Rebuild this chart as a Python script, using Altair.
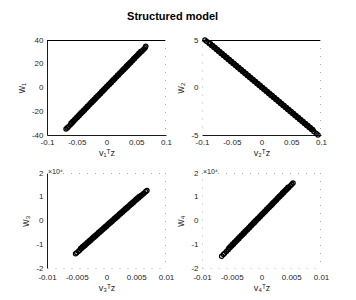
import altair as alt
import pandas as pd

# ---- data (outer sparse samples + dense core samples) ----
p1_x = [-0.068, -0.066, -0.064, -0.061, -0.058, -0.055, -0.052, -0.049, -0.046, -0.043, -0.040, -0.037,
        -0.034, -0.031, -0.028, -0.025, -0.022, -0.019, -0.016, -0.013, -0.010, -0.007, -0.004, -0.001,
        0.002, 0.005, 0.008, 0.011, 0.014, 0.017, 0.020, 0.023, 0.026, 0.029, 0.032, 0.035, 0.038,
        0.041, 0.044, 0.047, 0.050, 0.053, 0.056, 0.059, 0.061, 0.063, 0.065, 0.066,
        -0.0595, -0.0565, -0.0535, -0.0505, -0.0475, -0.0445, -0.0415, -0.0385, -0.0355, -0.0325,
        -0.0295, -0.0265, -0.0235, -0.0205, -0.0175, -0.0145, -0.0115, -0.0085, -0.0055, -0.0025,
        0.0005, 0.0035, 0.0065, 0.0095, 0.0125, 0.0155, 0.0185, 0.0215, 0.0245, 0.0275,
        0.0305, 0.0335, 0.0365, 0.0395, 0.0425, 0.0455, 0.0485, 0.0515, 0.0545, 0.0575]
p1_y = [-35.0, -34.0, -33.1, -31.5, -30.0, -28.4, -26.8, -25.3, -23.7, -22.2, -20.6, -19.1,
        -17.5, -16.0, -14.4, -12.9, -11.3, -9.8, -8.2, -6.7, -5.2, -3.6, -2.1, -0.5,
        1.0, 2.6, 4.1, 5.7, 7.2, 8.8, 10.3, 11.9, 13.4, 15.0, 16.5, 18.0, 19.6,
        21.1, 22.7, 24.2, 25.8, 27.3, 28.9, 30.4, 31.4, 32.5, 33.5, 34.8,
        -29.9, -28.4, -26.9, -25.3, -23.8, -22.2, -20.7, -19.1, -17.6, -16.0,
        -14.5, -12.9, -11.4, -9.9, -8.3, -6.8, -5.2, -3.7, -2.1, -0.6,
        1.0, 2.5, 4.0, 5.6, 7.1, 8.7, 10.2, 11.8, 13.3, 14.9,
        16.4, 18.0, 19.5, 21.0, 22.6, 24.1, 25.7, 27.2, 28.8, 30.3]

p2_x = [-0.095, -0.092, -0.088, -0.084, -0.080, -0.076, -0.072, -0.068, -0.064, -0.060, -0.056, -0.052,
        -0.048, -0.044, -0.040, -0.036, -0.032, -0.028, -0.024, -0.020, -0.016, -0.012, -0.008, -0.004,
        0.000, 0.004, 0.008, 0.012, 0.016, 0.020, 0.024, 0.028, 0.032, 0.036, 0.040, 0.044, 0.048,
        0.052, 0.056, 0.060, 0.064, 0.068, 0.072, 0.076, 0.080, 0.084, 0.088, 0.092, 0.095,
        -0.086, -0.082, -0.078, -0.074, -0.070, -0.066, -0.062, -0.058, -0.054, -0.050,
        -0.046, -0.042, -0.038, -0.034, -0.030, -0.026, -0.022, -0.018, -0.014, -0.010,
        -0.006, -0.002, 0.002, 0.006, 0.010, 0.014, 0.018, 0.022, 0.026, 0.030,
        0.034, 0.038, 0.042, 0.046, 0.050, 0.054, 0.058, 0.062, 0.066, 0.070,
        0.074, 0.078, 0.082, 0.086]
p2_y = [5.00, 4.84, 4.63, 4.42, 4.21, 4.00, 3.79, 3.58, 3.37, 3.16, 2.95, 2.74,
        2.52, 2.31, 2.10, 1.89, 1.68, 1.47, 1.26, 1.05, 0.84, 0.63, 0.42, 0.21,
        0.00, -0.21, -0.42, -0.63, -0.84, -1.05, -1.26, -1.47, -1.68, -1.89, -2.10, -2.31, -2.52,
        -2.74, -2.95, -3.16, -3.37, -3.58, -3.79, -4.00, -4.21, -4.42, -4.63, -4.84, -5.00,
        4.62, 4.41, 4.20, 3.99, 3.78, 3.57, 3.36, 3.15, 2.94, 2.73,
        2.52, 2.31, 2.10, 1.89, 1.68, 1.47, 1.26, 1.05, 0.84, 0.63,
        0.42, 0.21, -0.01, -0.22, -0.43, -0.64, -0.85, -1.06, -1.27, -1.48,
        -1.69, -1.90, -2.11, -2.32, -2.53, -2.74, -2.95, -3.16, -3.37, -3.58,
        -3.79, -4.00, -4.21, -4.42]

p3_x = [-0.0052, -0.0050, -0.0047, -0.0045, -0.0042, -0.0039, -0.0036, -0.0033, -0.0030, -0.0027,
        -0.0024, -0.0021, -0.0018, -0.0015, -0.0012, -0.0009, -0.0006, -0.0003, 0.0000, 0.0003,
        0.0006, 0.0009, 0.0012, 0.0015, 0.0018, 0.0021, 0.0024, 0.0027, 0.0030, 0.0033, 0.0036,
        0.0039, 0.0042, 0.0045, 0.0048, 0.0051, 0.0054, 0.0057, 0.0059, 0.0061, 0.0063, 0.0066, 0.0068,
        -0.00435, -0.00405, -0.00375, -0.00345, -0.00315, -0.00285, -0.00255, -0.00225, -0.00195, -0.00165,
        -0.00135, -0.00105, -0.00075, -0.00045, -0.00015, 0.00015, 0.00045, 0.00075, 0.00105, 0.00135,
        0.00165, 0.00195, 0.00225, 0.00255, 0.00285, 0.00315, 0.00345, 0.00375, 0.00405, 0.00435,
        0.00465, 0.00495, 0.00525, 0.00555]
p3_y = [-14040, -13600, -12930, -12490, -11820, -11160, -10490, -9830, -9160, -8490,
        -7830, -7160, -6500, -5830, -5160, -4500, -3830, -3170, -2500, -1830,
        -1170, -500, 160, 830, 1500, 2160, 2830, 3490, 4160, 4830, 5490,
        6160, 6820, 7490, 8160, 8820, 9490, 10150, 10600, 11040, 11490, 12150, 12600,
        -11760, -11090, -10430, -9760, -9090, -8430, -7760, -7100, -6430, -5760,
        -5100, -4430, -3770, -3100, -2430, -1770, -1100, -440, 230, 900,
        1560, 2230, 2900, 3560, 4230, 4890, 5560, 6230, 6890, 7560,
        8220, 8890, 9560, 10220]

p4_x = [-0.0067, -0.0064, -0.0062, -0.0059, -0.0056, -0.0053, -0.0050, -0.0047, -0.0044, -0.0041,
        -0.0038, -0.0035, -0.0032, -0.0029, -0.0026, -0.0023, -0.0020, -0.0017, -0.0014, -0.0011,
        -0.0008, -0.0005, -0.0002, 0.0001, 0.0004, 0.0007, 0.0010, 0.0013, 0.0016, 0.0019, 0.0022,
        0.0025, 0.0028, 0.0031, 0.0034, 0.0037, 0.0040, 0.0043, 0.0046, 0.0049, 0.0051, 0.0053,
        -0.00545, -0.00515, -0.00485, -0.00455, -0.00425, -0.00395, -0.00365, -0.00335, -0.00305, -0.00275,
        -0.00245, -0.00215, -0.00185, -0.00155, -0.00125, -0.00095, -0.00065, -0.00035, -0.00005, 0.00025,
        0.00055, 0.00085, 0.00115, 0.00145, 0.00175, 0.00205, 0.00235, 0.00265, 0.00295, 0.00325,
        0.00355, 0.00385, 0.00415, 0.00445]
p4_y = [-15100, -14330, -13810, -13040, -12270, -11500, -10730, -9960, -9190, -8420,
        -7650, -6880, -6100, -5330, -4560, -3790, -3020, -2250, -1480, -710,
        60, 840, 1610, 2380, 3150, 3920, 4690, 5460, 6230, 7000, 7770,
        8550, 9320, 10090, 10860, 11630, 12400, 13170, 13940, 14710, 15230, 15740,
        -11490, -10720, -9950, -9170, -8400, -7630, -6860, -6090, -5320, -4550,
        -3780, -3010, -2240, -1460, -690, 80, 850, 1620, 2390, 3160,
        3930, 4710, 5480, 6250, 7020, 7790, 8560, 9330, 10100, 10870,
        11640, 12420, 13190, 13960]

ticks_x_top = [-0.1, -0.05, 0, 0.05, 0.1]
ticks_x_bot = [-0.01, -0.005, 0, 0.005, 0.01]
ticks_y1 = [-40, -20, 0, 20, 40]
ticks_y2 = [-5, 0, 5]
ticks_y34 = [-20000, -10000, 0, 10000, 20000]

x_titles = ["v\u2081\u1D40z", "v\u2082\u1D40z", "v\u2083\u1D40z", "v\u2084\u1D40z"]
y_titles = ["w\u2081", "w\u2082", "w\u2083", "w\u2084"]
main_title = "Structured model"
exp_label = "\u00d710\u2074"

W, H = 119, 95
FONT = "Liberation Sans"
TXT = "#262626"


def panel(xs, ys, xdom, xticks, ydom, yticks, xtitle, ytitle,
          left_solid, bottom_solid, top_solid, ylabel_expr, sci, xlab_pad):
    df = pd.DataFrame({"x": xs, "y": ys})
    solid = dict(domainColor="black", domainWidth=0.9, domainOpacity=1)
    dotted = dict(domainColor="#aaaaaa", domainWidth=0.8, domainDash=[1, 7])
    xaxis = alt.Axis(values=xticks, title=xtitle, grid=False, ticks=False,
                     labelExpr="'' + datum.value", labelPadding=xlab_pad, titlePadding=2,
                     labelFontSize=8, titleFontSize=9, labelFont=FONT, titleFont=FONT,
                     labelColor=TXT, titleColor=TXT, titleFontWeight="normal",
                     labelFlush=False,
                     **(solid if bottom_solid else dotted))
    yaxis = alt.Axis(values=yticks, title=ytitle, grid=False, ticks=False,
                     labelExpr=ylabel_expr, labelPadding=4, titlePadding=5,
                     labelFontSize=8, titleFontSize=10, labelFont=FONT, titleFont=FONT,
                     labelColor=TXT, titleColor=TXT, titleFontWeight="normal",
                     labelFlush=False,
                     **(solid if left_solid else dotted))
    pts = alt.Chart(df).mark_point(shape="circle", filled=False, size=18,
                                   strokeWidth=1.3, color="black", opacity=1).encode(
        x=alt.X("x:Q", scale=alt.Scale(domain=xdom, nice=False, zero=False), axis=xaxis),
        y=alt.Y("y:Q", scale=alt.Scale(domain=ydom, nice=False, zero=False), axis=yaxis),
    )
    if top_solid:
        top = alt.Chart(df).mark_rule(color="black", strokeWidth=0.9).encode(
            x=alt.value(0), x2=alt.value(W), y=alt.value(0.5))
    else:
        top = alt.Chart(df).mark_rule(color="#aaaaaa", strokeWidth=0.8, strokeDash=[1, 7]).encode(
            x=alt.value(0), x2=alt.value(W), y=alt.value(0.5))
    right = alt.Chart(df).mark_rule(color="#aaaaaa", strokeWidth=0.8, strokeDash=[1, 7]).encode(
        x=alt.value(W - 0.5), y=alt.value(0), y2=alt.value(H))
    layers = [top, right, pts]
    if sci:
        txt = alt.Chart(pd.DataFrame({"t": [exp_label]})).mark_text(
            align="left", baseline="bottom", fontSize=7, font=FONT, color=TXT).encode(
            x=alt.value(1), y=alt.value(2), text="t:N")
        layers.append(txt)
    return alt.layer(*layers).properties(width=W, height=H)


c1 = panel(p1_x, p1_y, [-0.1, 0.1], ticks_x_top, [-40, 40], ticks_y1, x_titles[0], y_titles[0],
           True, True, True, "'' + datum.value", False, 3)
c2 = panel(p2_x, p2_y, [-0.1, 0.1], ticks_x_top, [-5, 5], ticks_y2, x_titles[1], y_titles[1],
           False, True, True, "'' + datum.value", False, 3)
c3 = panel(p3_x, p3_y, [-0.01, 0.01], ticks_x_bot, [-20000, 20000], ticks_y34, x_titles[2], y_titles[2],
           True, False, False, "'' + (datum.value / 10000)", True, 5)
c4 = panel(p4_x, p4_y, [-0.01, 0.01], ticks_x_bot, [-20000, 20000], ticks_y34, x_titles[3], y_titles[3],
           False, False, False, "'' + (datum.value / 10000)", True, 5)

chart = alt.concat(c1, c2, c3, c4, columns=2, spacing=alt.RowColnumber(row=38, column=36),
                   bounds="flush").properties(
    title=alt.TitleParams(main_title, fontSize=11, fontWeight="bold", font=FONT, color="black",
                          anchor="middle", offset=13),
    padding={"left": 8, "top": 3, "right": 5, "bottom": 2},
).configure_view(stroke=None)

chart.save("out.html", embed_options={"renderer": "svg", "actions": False})
